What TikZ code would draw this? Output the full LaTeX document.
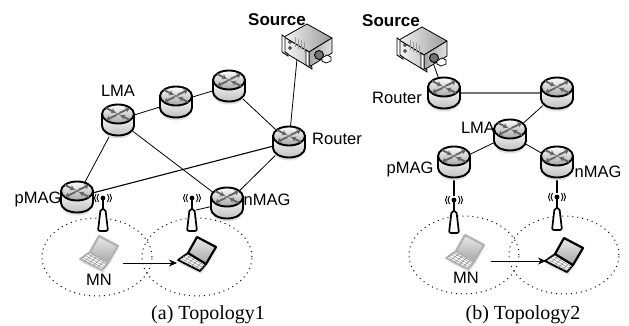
\documentclass[tikz,border=0pt]{standalone}
\usepackage{fontspec}
\setmainfont{Liberation Serif}
\setsansfont{Liberation Sans}
\usetikzlibrary{arrows.meta,shapes.geometric}

\tikzset{
  routerbox/.style={circle, minimum size=32pt, inner sep=0pt},
  serverbox/.style={minimum width=50pt, minimum height=44pt, inner sep=0pt},
  cellbox/.style={ellipse, draw, line width=1pt, dash pattern=on 1pt off 4pt, minimum width=110pt, minimum height=78pt, inner sep=0pt},
  namelabel/.style={font=\sffamily\fontsize{16.5}{18}\selectfont, inner sep=0pt},
  sourcelabel/.style={font=\sffamily\bfseries\fontsize{17}{18}\selectfont, inner sep=0pt},
  caption/.style={font=\fontsize{20}{22}\selectfont, inner sep=0pt},
  link/.style={line width=.8pt},
  move/.style={line width=.8pt, -{Stealth[length=8pt,width=7pt]}},
  pics/router/.style={code={
    \fill[black!12] (-15,10) .. controls (-15,15) and (-8,18.5) .. (0,18.5) .. controls (8,18.5) and (15,15) .. (15,10) -- cycle;
    \shade[top color=white, bottom color=black!25, draw=black, line width=1.9pt]
      (-16,-6) -- (-16,6) .. controls (-16,11.2) and (-8.8,15.5) .. (0,15.5)
      .. controls (8.8,15.5) and (16,11.2) .. (16,6) -- (16,-6) -- cycle;
    \shade[top color=white, bottom color=black!35, draw=black, line width=1.9pt]
      (0,-6) circle [x radius=16pt, y radius=9.5pt];
    \draw[black!70, line width=.4pt] (-9,-11) -- (9,-1) (-9,-1) -- (9,-11);
    % two going out, two coming in
    \foreach \u/\v/\s/\t in {1.5/-7/12/-12, -1.5/-5/-12/0, -12/-12/-2.5/-7.2, 12/0/2.5/-4.8}
      {
      \draw[black!60, line width=1.9pt, -{Stealth[length=4.5pt,width=5.5pt]}] (\u,\v) -- (\s,\t);
      }
  }},
  pics/antenna/.style={code={
    \draw[black, line width=1.4pt] (0,0) -- (0,12);
    \fill (0,0) circle [radius=2.4pt];
    \foreach \r in {4.5,7}
      {
      \draw[black, line width=.9pt] (-\r,-4) .. controls (-\r-2,-1.5) and (-\r-2,1.5) .. (-\r,4);
      \draw[black, line width=.9pt] (\r,-4) .. controls (\r+2,-1.5) and (\r+2,1.5) .. (\r,4);
      }
    \draw[black, fill=white, line width=1.7pt, rounded corners=2pt]
      (-2.4,11) -- (2.4,11) -- (5,33) -- (-5,33) -- cycle;
  }},
  pics/laptop/.style={code={
    \fill[black!12] (-19,9) -- (3,20) -- (19,-3) -- (9,12) -- cycle;
    \draw[#1, fill=white, line width=1.8pt, line join=round] (-10,-1) -- (-20,6) -- (2,17) -- (8,10) -- cycle;
    \foreach \k in {.25,.5,.75}
      \draw[black!45, line width=.5pt] (-10-10*\k,-1+7*\k) -- (8-6*\k,10+7*\k);
    \foreach \k in {.2,.4,.6,.8}
      \draw[black!45, line width=.5pt] (-10+18*\k,-1+11*\k) -- (-20+22*\k,6+11*\k);
    \shade[top color=black!8, bottom color=black!35, draw=#1, line width=2.2pt, line join=round]
      (-10,-1) -- (-1,-17) -- (18,-7) -- (8,10) -- cycle;
  }},
  pics/server/.style={code={
    \shade[left color=black!5, right color=black!40, draw=black, line width=.8pt, line join=round]
      (-23,-8) -- (0,-21) -- (25,-7) -- (2,7) -- cycle;
    \shade[left color=black!35, right color=black!12, draw=black, line width=.8pt, line join=round]
      (2,7) -- (25,-7) -- (25,8) -- (2,22) -- cycle;
    \shade[left color=black!3, right color=black!22, draw=black, line width=.8pt, line join=round]
      (-23,-8) -- (2,7) -- (2,22) -- (-23,7) -- cycle;
    % ears
    \draw[black, fill=white, line width=.9pt] (-25,-10) -- (-22,-8) -- (-22,7) -- (-19,9) -- (-19,11) -- (-25,7) -- cycle;
    \draw[black, fill=white, line width=.9pt] (-1,5) -- (2,7) -- (2,20) -- (5,22) -- (5,24) -- (-1,20) -- cycle;
    % vents
    \foreach \x in {-12,-9,-6,-3}
      \draw[black!40, line width=.7pt] (\x,\x*.6-1) -- (\x,\x*.6+9);
    \foreach \y in {-3,3}
      \draw[black, fill=black!30, line width=.5pt] (-17,\y) circle [radius=1.5pt];
    % knob and plug
    \draw[black, fill=black!55, line width=.9pt] (12,10) circle [radius=4.5pt];
    \draw[black, fill=white, line width=.7pt] (15,13) -- (20,10) -- (24,12) -- (24,16) -- (19,18) -- (15,16) -- cycle;
  }}
}

\begin{document}
\begin{tikzpicture}[x=1pt, y=-1pt]
\useasboundingbox (0,0) rectangle (629,326);

%% routers (drawn at the end, over the links)
\foreach\name/\x/\y in {lmaA/118/120, midA/176/102, topA/229/86, routerA/289/142, pmagA/77/197, nmagA/227/203,
  routerB/444/93, rightB/557/93, lmaB/510/135, pmagB/454/162, nmagB/557/162}
  {
  \node[routerbox] (\name) at (\x,\y) {};
  }

%% sources and the ends of the lines
\node[serverbox] (sourceA) at (307,45) {};
\node[serverbox] (sourceB) at (422,48) {};
\coordinate (portA) at (297,59);
\coordinate (portB) at (432,60);
\coordinate (mastA) at (196,210);
\coordinate (mastB) at (454,196);
\coordinate (mastC) at (557,193);

%% coverage
\foreach\name/\x/\y in {cellA/97/257, cellB/197/257, cellC/464/255, cellD/564/255}
  {
  \node[cellbox] (\name) at (\x,\y) {};
  }

%% links, topology 1
\foreach\a/\b in {lmaA/midA, midA/topA, topA/routerA, lmaA/pmagA, lmaA/nmagA, nmagA/routerA, portA/routerA, mastA/nmagA}
  {
  \draw[link] (\a) -- (\b);
  }
\draw[link, line width=1.1pt] (pmagA) -- (routerA);

%% links, topology 2
\foreach\a/\b in {portB/routerB, rightB/lmaB, lmaB/pmagB, lmaB/nmagB}
  {
  \draw[link] (\a) -- (\b);
  }
\draw[black!55, line width=1.4pt] (routerB) -- (rightB);
\draw[link, line width=1.1pt] (pmagB) -- (mastB);
\draw[link, line width=1.1pt] (nmagB) -- (mastC);

%% antennas
\pic at (103,198) {antenna};
\pic at (192,198) {antenna};
\pic at (454,200) {antenna};
\pic at (557,197) {antenna};

\foreach\name in {lmaA,midA,topA,routerA,pmagA,nmagA,routerB,rightB,lmaB,pmagB,nmagB}
  {
  \pic at (\name) {router};
  }
\pic at (sourceA) {server};
\pic at (sourceB) {server};

%% mobile node
\pic at (100,253) {laptop=black!30};
\pic at (198,254) {laptop=black};
\pic at (466,252) {laptop=black!30};
\pic at (565,255) {laptop=black};
\coordinate (fromA) at (123,263);
\coordinate (toA) at (177,263);
\coordinate (fromB) at (491,261);
\coordinate (toB) at (546,261);
\draw[move] (fromA) -- (toA);
\draw[move] (fromB) -- (toB);

%% labels
\node[sourcelabel] (srcnameA) at (277,20) {Source};
\node[sourcelabel] (srcnameB) at (391,21) {Source};
\node[namelabel] (routernameA) at (337,139) {Router};
\node[namelabel] (routernameB) at (397,98) {Router};
\node[namelabel] (lmanameA) at (118,91) {LMA};
\node[namelabel] (lmanameB) at (478,128) {LMA};
\node[namelabel] (pmagnameA) at (38,199) {pMAG};
\node[namelabel] (nmagnameA) at (267,200) {nMAG};
\node[namelabel] (pmagnameB) at (410,169) {pMAG};
\node[namelabel] (nmagnameB) at (598,172) {nMAG};
\node[namelabel] (mnnameA) at (99,280) {MN};
\node[namelabel] (mnnameB) at (466,278) {MN};
\node[caption] (capA) at (208,315) {(a) Topology1};
\node[caption] (capB) at (523,315) {(b) Topology2};

\end{tikzpicture}
\end{document}
